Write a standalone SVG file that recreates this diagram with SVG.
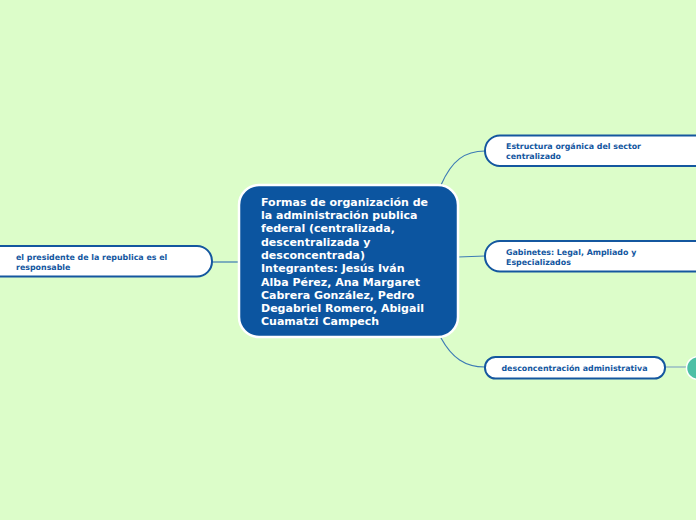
<svg xmlns="http://www.w3.org/2000/svg" width="696" height="520" viewBox="0 0 696 520">
<style>
.bg{fill:#dcfdc9}
.conn{fill:none;stroke:#3d7bb5;stroke-width:1.2}
.conn2{fill:none;stroke:#86abc4;stroke-width:1.2}
.node{fill:#ffffff;stroke:#14579f;stroke-width:2}
.ntext{font-family:"DejaVu Sans",Verdana,sans-serif;font-weight:bold;font-size:7.9px;fill:#14579f}
.central{fill:#0c55a0;stroke:#ffffff;stroke-width:2.5}
.ctext{font-family:"DejaVu Sans",Verdana,sans-serif;font-weight:bold;font-size:11px;fill:#ffffff}
.leaf{fill:#4cc0a6;stroke:#ffffff;stroke-width:1.5}
</style>
<rect class="bg" x="0" y="0" width="696" height="520"/>
<g id="connectors">
<path class="conn" d="M441,185 C452,160 465,151 485,151"/>
<path class="conn" d="M458,257 L485,256"/>
<path class="conn" d="M441,338 C452,358 465,367 485,367"/>
<path class="conn" d="M239,262 L212,262"/>
<path class="conn2" d="M665,367 L687,367"/>
</g>
<g id="central">
<rect class="central" x="239" y="185" width="219" height="152" rx="20" ry="20"/>
<text class="ctext" x="261" y="205.5">Formas de organización de</text>
<text class="ctext" x="261" y="219">la administración publica</text>
<text class="ctext" x="261" y="232.3">federal (centralizada,</text>
<text class="ctext" x="261" y="245.6">descentralizada y</text>
<text class="ctext" x="261" y="258.9">desconcentrada)</text>
<text class="ctext" x="261" y="272.2">Integrantes: Jesús Iván</text>
<text class="ctext" x="261" y="285.5">Alba Pérez, Ana Margaret</text>
<text class="ctext" x="261" y="298.8">Cabrera González, Pedro</text>
<text class="ctext" x="261" y="312.1">Degabriel Romero, Abigail</text>
<text class="ctext" x="261" y="325.4">Cuamatzi Campech</text>
</g>
<g id="n1">
<rect class="node" x="485" y="135.5" width="225" height="30.5" rx="15" ry="15"/>
<text class="ntext" x="506" y="148.6">Estructura orgánica del sector</text>
<text class="ntext" x="506" y="158.6">centralizado</text>
</g>
<g id="n2">
<rect class="node" x="485" y="241" width="225" height="30.5" rx="15" ry="15"/>
<text class="ntext" x="506" y="254.6">Gabinetes: Legal, Ampliado y</text>
<text class="ntext" x="506" y="264.6">Especializados</text>
</g>
<g id="n3">
<rect class="node" x="485" y="357" width="180" height="21.5" rx="10.5" ry="10.5"/>
<text class="ntext" x="574.5" y="370.6" text-anchor="middle">desconcentración administrativa</text>
</g>
<g id="n4">
<circle class="leaf" cx="698" cy="368" r="11.5"/>
</g>
<g id="n5">
<rect class="node" x="-20" y="246" width="232" height="30.5" rx="15" ry="15"/>
<text class="ntext" x="16" y="260.1">el presidente de la republica es el</text>
<text class="ntext" x="16" y="270.1">responsable</text>
</g>
</svg>
